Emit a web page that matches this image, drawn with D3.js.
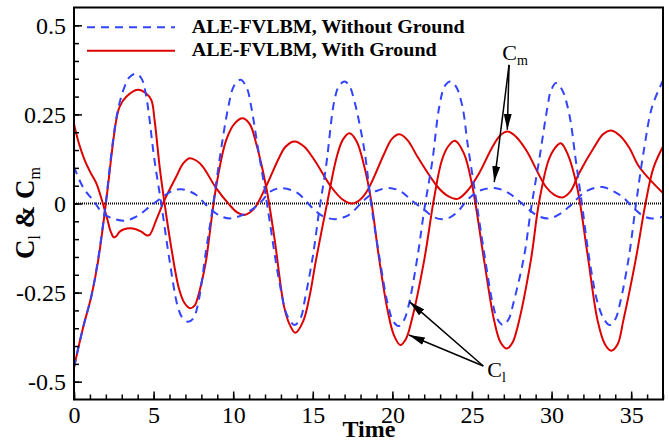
<!DOCTYPE html>
<html>
<head>
<meta charset="utf-8">
<script src="https://cdn.jsdelivr.net/npm/d3@7"></script>
<style>
  body { margin: 0; background: #fff; }
  svg { display: block; }
</style>
</head>
<body>
<svg id="chart" width="669" height="442"></svg>
<script>
// ---- data: [time, coefficient] ----
const legendLabels = ["ALE-FVLBM, Without Ground", "ALE-FVLBM, With Ground"];

// lift coefficient, no ground
const clWithoutGround = [
  [0,-0.46],[0.56,-0.35],[1.09,-0.26],[1.5,-0.16],[1.99,0.0],[2.4,0.16],[2.76,0.263],
  [3.18,0.328],[3.5,0.355],[3.91,0.364],[4.25,0.35],[4.54,0.30],[5.06,0.12],[5.48,0.0],
  [6.0,-0.159],[6.52,-0.29],[6.8,-0.32],[7.15,-0.332],[7.5,-0.322],[7.8,-0.28],[8.3,-0.13],
  [8.72,-0.009],[9.14,0.122],[9.66,0.263],[10.05,0.33],[10.46,0.347],[10.85,0.325],
  [11.13,0.272],[11.54,0.16],[11.96,0.047],[12.28,-0.046],[12.9,-0.22],[13.4,-0.315],
  [13.85,-0.341],[14.25,-0.32],[14.5,-0.27],[15.0,-0.149],[15.41,-0.018],[15.83,0.103],
  [16.36,0.29],[16.65,0.33],[17.0,0.342],[17.3,0.33],[17.6,0.29],[18.24,0.15],[18.66,0.0],
  [19.18,-0.149],[19.7,-0.28],[20.05,-0.33],[20.38,-0.344],[20.7,-0.33],[21.0,-0.29],
  [21.58,-0.149],[22.0,-0.018],[22.52,0.122],[22.94,0.27],[23.3,0.33],[23.65,0.342],
  [24.0,0.328],[24.4,0.272],[24.72,0.169],[25.14,0.047],[25.77,-0.14],[26.3,-0.28],
  [26.6,-0.325],[26.95,-0.341],[27.3,-0.325],[27.6,-0.28],[28.27,-0.149],[28.7,-0.018],
  [29.22,0.122],[29.74,0.27],[29.95,0.315],[30.28,0.338],[30.65,0.32],[31.1,0.253],
  [31.52,0.122],[31.93,-0.009],[32.35,-0.149],[32.9,-0.28],[33.3,-0.325],[33.65,-0.341],
  [34.0,-0.325],[34.3,-0.28],[34.86,-0.149],[35.28,-0.009],[35.8,0.15],[36.32,0.272],
  [37.0,0.345]
];

// lift coefficient, with ground
const clWithGround = [
  [0,-0.46],[0.56,-0.35],[1.09,-0.26],[1.5,-0.165],[2.03,0.01],[2.45,0.17],[2.66,0.235],
  [2.87,0.272],[3.3,0.3],[4.0,0.319],[4.5,0.31],[4.86,0.29],[5.06,0.235],[5.38,0.103],
  [5.69,0.0],[6.1,-0.121],[6.6,-0.24],[6.95,-0.28],[7.3,-0.294],[7.6,-0.285],[7.8,-0.26],
  [8.1,-0.205],[8.3,-0.159],[8.93,0.047],[9.56,0.178],[10.1,0.225],[10.6,0.239],
  [11.05,0.222],[11.44,0.169],[12.07,0.047],[12.6,-0.1],[13.2,-0.29],[13.55,-0.34],
  [13.9,-0.363],[14.4,-0.33],[14.79,-0.262],[15.2,-0.159],[15.94,0.01],[16.5,0.13],
  [16.9,0.18],[17.3,0.197],[17.75,0.175],[18.24,0.103],[18.66,0.01],[19.18,-0.159],
  [19.7,-0.3],[20.1,-0.37],[20.5,-0.397],[20.85,-0.38],[21.2,-0.33],[22.0,-0.159],
  [22.6,0.01],[23.1,0.12],[23.5,0.16],[23.93,0.176],[24.5,0.14],[25.03,0.047],
  [25.76,-0.159],[26.4,-0.33],[26.8,-0.39],[27.19,-0.407],[27.55,-0.39],[27.9,-0.34],
  [28.7,-0.159],[29.2,0.0],[29.8,0.12],[30.2,0.155],[30.58,0.169],[31.0,0.14],[31.6,0.047],
  [32.25,-0.14],[32.9,-0.33],[33.35,-0.395],[33.75,-0.413],[34.15,-0.395],[34.5,-0.33],
  [35.28,-0.159],[35.9,0.0],[36.4,0.1],[37.0,0.16]
];

// moment coefficient, no ground
const cmWithoutGround = [
  [0,0.103],[0.3,0.07],[0.67,0.038],[1.19,0.01],[1.82,-0.028],[2.45,-0.042],[3.18,-0.048],
  [3.91,-0.037],[4.75,-0.009],[5.58,0.019],[6.2,0.036],[6.74,0.04],[7.2,0.035],[7.68,0.024],
  [8.3,-0.004],[8.93,-0.028],[9.35,-0.038],[9.77,-0.042],[10.3,-0.037],[10.8,-0.028],
  [11.65,0.0],[12.38,0.035],[13.1,0.043],[14.05,0.029],[14.9,-0.009],[15.6,-0.035],
  [16.36,-0.044],[17.0,-0.038],[17.4,-0.028],[18.24,0.01],[19.0,0.035],[19.91,0.043],
  [20.6,0.032],[21.17,0.01],[22.0,-0.018],[22.6,-0.038],[23.15,-0.044],[23.65,-0.038],
  [24.1,-0.023],[24.82,0.015],[25.6,0.038],[26.5,0.043],[27.2,0.032],[27.75,0.015],
  [28.6,-0.018],[29.2,-0.036],[29.84,-0.042],[30.5,-0.03],[31.1,-0.009],[32.2,0.035],
  [33.19,0.046],[33.9,0.034],[34.44,0.019],[35.28,-0.018],[35.8,-0.036],[36.32,-0.042],
  [37.0,-0.037]
];

// moment coefficient, with ground
const cmWithGround = [
  [0,0.223],[0.3,0.17],[0.67,0.122],[1.0,0.09],[1.4,0.057],[1.93,-0.018],[2.1,-0.045],
  [2.3,-0.078],[2.5,-0.095],[2.65,-0.092],[2.85,-0.08],[3.1,-0.073],[3.7,-0.07],
  [4.23,-0.079],[4.55,-0.089],[4.75,-0.088],[5.17,-0.046],[5.69,0.01],[6.42,0.075],
  [6.85,0.112],[7.26,0.127],[7.7,0.12],[8.1,0.103],
  [8.93,0.043],[9.77,-0.004],[10.25,-0.025],[10.7,-0.032],[11.3,-0.015],[11.96,0.038],
  [12.9,0.13],[13.3,0.16],[13.85,0.174],[14.45,0.16],[15.1,0.122],[16.15,0.047],
  [16.85,0.012],[17.44,0.0],[17.95,0.01],[18.45,0.038],[19.5,0.141],[19.95,0.18],
  [20.43,0.194],[20.95,0.178],[21.58,0.131],[22.84,0.047],[23.45,0.022],[24.09,0.013],
  [24.7,0.035],[25.45,0.085],[26.3,0.16],[26.8,0.192],[27.23,0.202],[27.75,0.188],
  [28.4,0.15],[29.64,0.047],[30.15,0.025],[30.68,0.017],[31.2,0.035],[31.73,0.085],
  [32.7,0.16],[33.25,0.195],[33.75,0.205],[34.3,0.19],[34.9,0.155],[35.5,0.103],
  [37.0,0.029]
];

const xTicks = [0, 5, 10, 15, 20, 25, 30, 35];
const xTickLabels = ["0", "5", "10", "15", "20", "25", "30", "35"];
const yTicks = [-0.5, -0.25, 0, 0.25, 0.5];
const yTickLabels = ["-0.5", "-0.25", "0", "0.25", "0.5"];

// annotation anchors (time, coefficient)
const cmLabelAt = [26.9, 0.403];
const cmArrowFrom = [27.33, 0.389];
const cmArrowTo = [[27.22, 0.207], [26.4, 0.06]];
const clLabelAt = [25.96, -0.487];
const clArrowFrom = [25.71, -0.456];
const clArrowTo = [[21.08, -0.276], [21.04, -0.369]];

// ---- layout ----
const plot = { left: 74, right: 663, top: 7.5, bottom: 399.5 };
const blue = "#3344ff", red = "#dd0000";

const svg = d3.select("#chart");
const x = d3.scaleLinear().domain([0, 37]).range([plot.left, plot.right]);
const y = d3.scaleLinear().domain([-0.55, 0.55]).range([plot.bottom, plot.top]);

const defs = svg.append("defs");
defs.append("clipPath").attr("id", "plotClip")
  .append("rect")
  .attr("x", plot.left).attr("y", plot.top)
  .attr("width", plot.right - plot.left).attr("height", plot.bottom - plot.top);
defs.append("marker")
  .attr("id", "arrowHead")
  .attr("markerUnits", "userSpaceOnUse")
  .attr("viewBox", "0 0 16 8")
  .attr("refX", 16).attr("refY", 4)
  .attr("markerWidth", 16).attr("markerHeight", 8)
  .attr("orient", "auto")
  .append("path").attr("d", "M0,0 L16,4 L0,8 Z").attr("fill", "#000");

// zero reference line
svg.append("line")
  .attr("x1", plot.left).attr("x2", plot.right)
  .attr("y1", y(0)).attr("y2", y(0))
  .attr("stroke", "#000").attr("stroke-width", 2)
  .attr("stroke-dasharray", "1,1");

// curves
const line = d3.line()
  .x(d => x(d[0])).y(d => y(d[1]))
  .curve(d3.curveCatmullRom.alpha(0.5));

const curves = svg.append("g").attr("clip-path", "url(#plotClip)");
const seriesList = [
  { data: cmWithGround, color: red, dash: null },
  { data: clWithGround, color: red, dash: null },
  { data: cmWithoutGround, color: blue, dash: "8,6" },
  { data: clWithoutGround, color: blue, dash: "8,6" }
];
seriesList.forEach(s => {
  curves.append("path")
    .attr("d", line(s.data))
    .attr("fill", "none")
    .attr("stroke", s.color)
    .attr("stroke-width", 2)
    .attr("stroke-dasharray", s.dash);
});

// axes: minor ticks, then major ticks with labels (ticks point inward)
const tickFont = "'Liberation Serif', 'Times New Roman', serif";
function styleAxis(g) {
  g.select(".domain").remove();
  g.selectAll(".tick line").attr("stroke", "#000").attr("stroke-width", 1.5);
  g.selectAll(".tick text")
    .attr("fill", "#000")
    .style("font-family", tickFont)
    .style("font-size", "24px");
}

svg.append("g")
  .attr("transform", `translate(0,${plot.bottom})`)
  .call(d3.axisBottom(x).tickValues(d3.range(0, 38, 1)).tickSize(-5).tickFormat(""))
  .call(styleAxis);
svg.append("g")
  .attr("transform", `translate(0,${plot.bottom})`)
  .call(d3.axisBottom(x).tickValues(xTicks).tickSize(-8).tickPadding(6)
    .tickFormat((d, i) => xTickLabels[i]))
  .call(styleAxis);

svg.append("g")
  .attr("transform", `translate(${plot.left},0)`)
  .call(d3.axisLeft(y).tickValues(d3.range(-10, 11).map(v => v * 0.05)).tickSize(-5).tickFormat(""))
  .call(styleAxis);
svg.append("g")
  .attr("transform", `translate(${plot.left},0)`)
  .call(d3.axisLeft(y).tickValues(yTicks).tickSize(-8).tickPadding(8)
    .tickFormat((d, i) => yTickLabels[i]))
  .call(styleAxis);

// frame
svg.append("rect")
  .attr("x", plot.left).attr("y", plot.top)
  .attr("width", plot.right - plot.left).attr("height", plot.bottom - plot.top)
  .attr("fill", "none").attr("stroke", "#000").attr("stroke-width", 2);

// axis titles
svg.append("text")
  .attr("x", 369).attr("y", 437)
  .attr("text-anchor", "middle")
  .style("font-family", tickFont).style("font-weight", "bold").style("font-size", "24px")
  .text("Time");

const yTitle = svg.append("text")
  .attr("transform", "translate(34,213) rotate(-90)")
  .attr("text-anchor", "middle")
  .style("font-family", tickFont).style("font-size", "27px").style("font-weight", "bold");
yTitle.append("tspan").text("C");
yTitle.append("tspan").attr("dy", 6).style("font-size", "16px").style("font-weight", "normal").text("l");
yTitle.append("tspan").attr("dy", -6).text(" & C");
yTitle.append("tspan").attr("dy", 6).style("font-size", "16px").style("font-weight", "normal").text("m");

// legend
const legend = svg.append("g");
const legendRows = [
  { label: legendLabels[0], color: blue, dash: "8,6", ly: 27.3, ty: 33, len: 273 },
  { label: legendLabels[1], color: red, dash: null, ly: 50.7, ty: 56, len: 245 }
];
legendRows.forEach(r => {
  legend.append("line")
    .attr("x1", 87).attr("x2", 175).attr("y1", r.ly).attr("y2", r.ly)
    .attr("stroke", r.color).attr("stroke-width", 2)
    .attr("stroke-dasharray", r.dash);
  legend.append("text")
    .attr("x", 191.7).attr("y", r.ty)
    .attr("textLength", r.len).attr("lengthAdjust", "spacingAndGlyphs")
    .style("font-family", tickFont).style("font-weight", "bold").style("font-size", "18px")
    .text(r.label);
});

// annotations
function annotate(labelAt, from, targets, sub) {
  const t = svg.append("text")
    .attr("x", x(labelAt[0])).attr("y", y(labelAt[1]))
    .style("font-family", tickFont).style("font-size", "22px");
  t.append("tspan").text("C");
  t.append("tspan").attr("dy", 5).style("font-size", "14px").text(sub);
  targets.forEach(p => {
    svg.append("line")
      .attr("x1", x(from[0])).attr("y1", y(from[1]))
      .attr("x2", x(p[0])).attr("y2", y(p[1]))
      .attr("stroke", "#000").attr("stroke-width", 1.5)
      .attr("marker-end", "url(#arrowHead)");
  });
}
annotate(cmLabelAt, cmArrowFrom, cmArrowTo, "m");
annotate(clLabelAt, clArrowFrom, clArrowTo, "l");
</script>
</body>
</html>
